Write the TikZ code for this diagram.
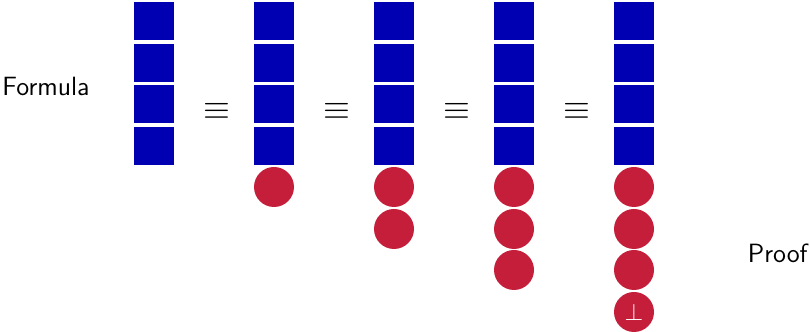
\documentclass[tikz,border=0pt]{standalone}
\usepackage{amsmath}
\usepackage{amssymb}
\usepackage{tikz}
\usetikzlibrary{shapes}
\definecolor{clauseblue}{RGB}{0,0,178}
\definecolor{proofred}{RGB}{196,30,58}
\tikzstyle{clause}=[rectangle,fill=clauseblue,inner sep=0mm,minimum width=20pt,minimum height=19pt]
\tikzstyle{lemma}=[circle,fill=proofred,inner sep=0mm,minimum size=20pt,text=white,font=\large]
\tikzstyle{equivsign}=[inner sep=0mm,font=\fontsize{19}{22}\selectfont]
\tikzstyle{caption}=[inner sep=0mm,font=\fontsize{13.2}{15}\sffamily]

\begin{document}
\begin{tikzpicture}[x=0.5pt,y=0.5pt]
    \useasboundingbox (0,0) rectangle (810,332);
    \node[caption,anchor=west] at (2,246) (formula) {Formula};
    \node[caption,anchor=east] at (808,79) (proof) {Proof};
    % formula columns
    \node[clause] at (154,311) (f11) {};
    \node[clause] at (154,269) (f12) {};
    \node[clause] at (154,227.5) (f13) {};
    \node[clause] at (154,186) (f14) {};
    \node[clause] at (274,311) (f21) {};
    \node[clause] at (274,269) (f22) {};
    \node[clause] at (274,227.5) (f23) {};
    \node[clause] at (274,186) (f24) {};
    \node[clause] at (394,311) (f31) {};
    \node[clause] at (394,269) (f32) {};
    \node[clause] at (394,227.5) (f33) {};
    \node[clause] at (394,186) (f34) {};
    \node[clause] at (514,311) (f41) {};
    \node[clause] at (514,269) (f42) {};
    \node[clause] at (514,227.5) (f43) {};
    \node[clause] at (514,186) (f44) {};
    \node[clause] at (634,311) (f51) {};
    \node[clause] at (634,269) (f52) {};
    \node[clause] at (634,227.5) (f53) {};
    \node[clause] at (634,186) (f54) {};
    % derived lemmas
    \node[lemma] at (274,145) (p21) {};
    \node[lemma] at (394,145) (p31) {};
    \node[lemma] at (394,103) (p32) {};
    \node[lemma] at (514,145) (p41) {};
    \node[lemma] at (514,103) (p42) {};
    \node[lemma] at (514,62) (p43) {};
    \node[lemma] at (634,145) (p51) {};
    \node[lemma] at (634,103) (p52) {};
    \node[lemma] at (634,62) (p53) {};
    \node[lemma] at (634,20) (p54) {$\perp$};
    % equivalences
    \node[equivsign] at (216.5,221) (eq1) {$\equiv$};
    \node[equivsign] at (336.5,221) (eq2) {$\equiv$};
    \node[equivsign] at (456.5,221) (eq3) {$\equiv$};
    \node[equivsign] at (576.5,221) (eq4) {$\equiv$};
  \end{tikzpicture}
\end{document}
